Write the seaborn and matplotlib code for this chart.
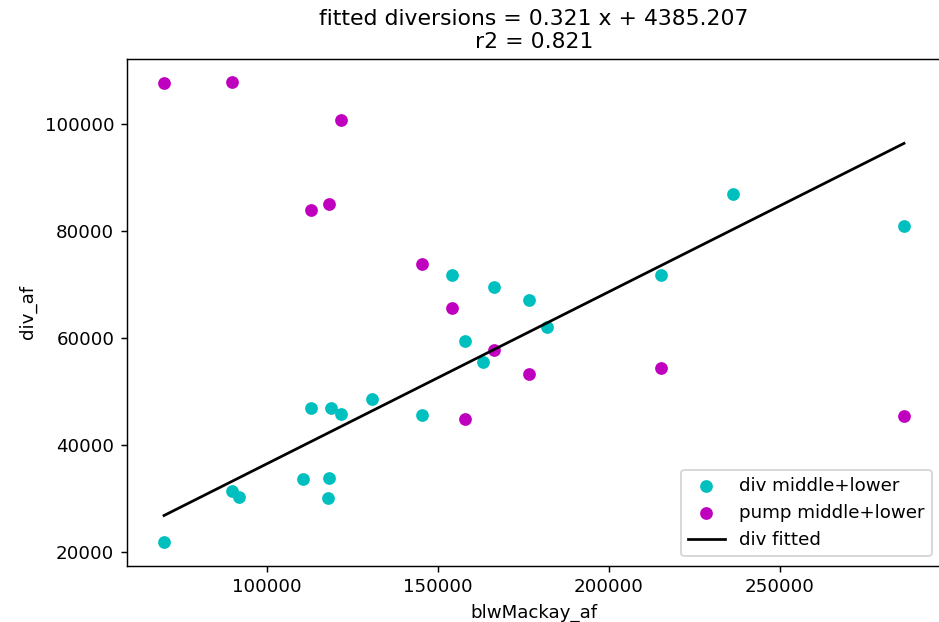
import numpy as np
import pandas as pd
import matplotlib
matplotlib.use("Agg")
import matplotlib.pyplot as plt
import seaborn as sns

# values
div_x = [69795, 89766, 91725, 110526, 118217, 117836, 112778, 118626, 121725, 130614,
         145234, 154006, 157983, 163222, 166375, 176697, 181814, 215293, 236375, 286347]
div_y = [21754, 31381, 30336, 33564, 33806, 30075, 46866, 46866, 45821, 48545,
         45635, 71624, 59366, 55448, 69441, 67053, 61978, 71624, 86867, 80952]

pump_x = [69795, 89766, 121725, 112778, 118217, 145234, 154006, 166375, 176697,
          157983, 215293, 286347]
pump_y = [107501, 107761, 100598, 83938, 84926, 73825, 65560, 57631, 53209,
          44907, 54404, 45374]

slope = 0.321
intercept = 4385.207
r2 = 0.821

div = pd.DataFrame({"x": div_x, "y": div_y})
pump = pd.DataFrame({"x": pump_x, "y": pump_y})
fit_x = np.array([min(div_x), max(div_x)])
fit = pd.DataFrame({"x": fit_x, "y": slope * fit_x + intercept})

DPI = 131
fig = plt.figure(figsize=(939 / DPI, 622 / DPI), dpi=DPI)
# the reference is a cropped screenshot: right spine sits just past the edge
ax = fig.add_axes([127 / 939, 56.5 / 622, 814 / 939, 506.5 / 622])

sns.scatterplot(data=div, x="x", y="y", color="c", s=36, edgecolor="face",
                linewidth=1, label="div middle+lower", ax=ax)
sns.scatterplot(data=pump, x="x", y="y", color="m", s=36, edgecolor="face",
                linewidth=1, label="pump middle+lower", ax=ax)
sns.lineplot(data=fit, x="x", y="y", color="k", linewidth=1.5,
             label="div fitted", ax=ax)

ax.set_xlabel("blwMackay_af")
ax.set_ylabel("div_af")
ax.set_title("fitted diversions = %.3f x + %.3f\nr2 = %.3f" % (slope, intercept, r2))
ax.legend(loc="lower right")

fig.savefig("out.png", dpi=DPI)
